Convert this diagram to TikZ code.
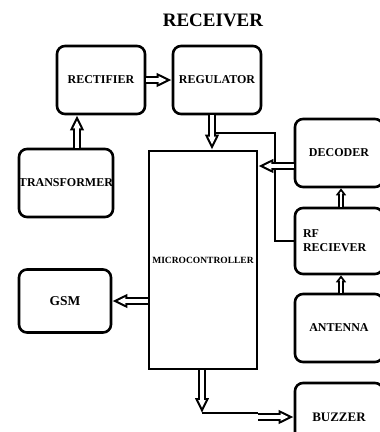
\documentclass[tikz,border=0pt]{standalone}
\usepackage{fontspec}
\setmainfont{Liberation Serif}
\usetikzlibrary{arrows.meta,positioning}
\tikzset{
  blk/.style = {draw, line width=2.6pt, rounded corners=8pt, minimum width=88pt, minimum height=68pt, align=center, inner sep=0pt, font=\fontsize{12}{14}\selectfont\bfseries},
  mcu_blk/.style = {draw, line width=2.6pt, minimum width=108pt, minimum height=218pt, inner sep=0pt, font=\fontsize{9.5}{11}\selectfont\bfseries},
  hol_arr/.style = {line width=7.5pt, -{Triangle[length=15pt,width=13pt]},
    postaction={draw=white, line width=3.5pt, shorten >=5.04pt, -{Triangle[length=7.96pt,width=6.9pt]}}},
  hol_arr_s/.style = {line width=6pt, -{Triangle[length=7pt,width=10pt]},
    postaction={draw=white, line width=2.4pt, shorten >=3.1pt, -{Triangle[length=2.1pt,width=3pt]}}},
  wire/.style = {line width=2.4pt}
}

\begin{document}
\begin{tikzpicture}[x=1pt, y=-1pt]
			\useasboundingbox (0,0) rectangle (380,432);
			\fill[white] (0,0) rectangle (380,432);
			\clip (0,0) rectangle (380,432);
			% title
			\node (title) at (213,20) {\fontsize{19}{22}\selectfont\bfseries RECEIVER};
			% left column
			\node [blk] (rect) at (101,80) {RECTIFIER};
			\node [blk] (reg) at (217,80) {REGULATOR};
			\node [blk] (trans) at (66,183) {TRANSFORMER};
			\node [blk, minimum width=92pt, minimum height=63pt, font=\fontsize{13.5}{15}\selectfont\bfseries] (gsm) at (65,301) {GSM};
			\node [mcu_blk] (mcu) at (203,260) {MICROCONTROLLER};
			% right column
			\node [blk] (dec) at (339,153) {DECODER};
			\node [blk, minimum height=66pt, text width=72pt, align=left] (rfrx) at (339,241) {RF\\RECIEVER};
			\node [blk] (ant) at (339,328) {ANTENNA};
			\node [blk, font=\fontsize{13}{15}\selectfont\bfseries] (buz) at (339,417) {BUZZER};
			% helper points
			\coordinate (jn) at (216,133);
			\coordinate (bendrf) at (275,133);
			\coordinate (bzbend) at (202,413);
			\coordinate (bzstart) at (258,417);
			% connectors
			\draw [hol_arr] (rect) -- (reg);
			\draw [hol_arr] ([xshift=11pt]trans.north) -- ([xshift=11pt]trans.north |- rect.south);
			\draw [hol_arr] ([xshift=-5pt]reg.south) -- ([xshift=-5pt]reg.south |- mcu.north);
			\draw [wire] (rfrx.west) -| (bendrf) -- (jn);
			\draw [hol_arr] ([yshift=-13pt]dec.west) -- ([yshift=-13pt]dec.west -| mcu.east);
			\draw [hol_arr_s] ([xshift=2pt]rfrx.north) -- ([xshift=2pt]dec.south);
			\draw [hol_arr_s] ([xshift=2pt]ant.north) -- ([xshift=2pt]rfrx.south);
			\draw [hol_arr] (mcu.west |- gsm) -- (gsm.east);
			\draw [hol_arr] (mcu.south -| bzbend) -- (bzbend);
			\draw [wire] (bzbend) -- (bzbend -| bzstart);
			\draw [hol_arr] (bzstart) -- (bzstart -| buz.west);
\end{tikzpicture}
\end{document}
